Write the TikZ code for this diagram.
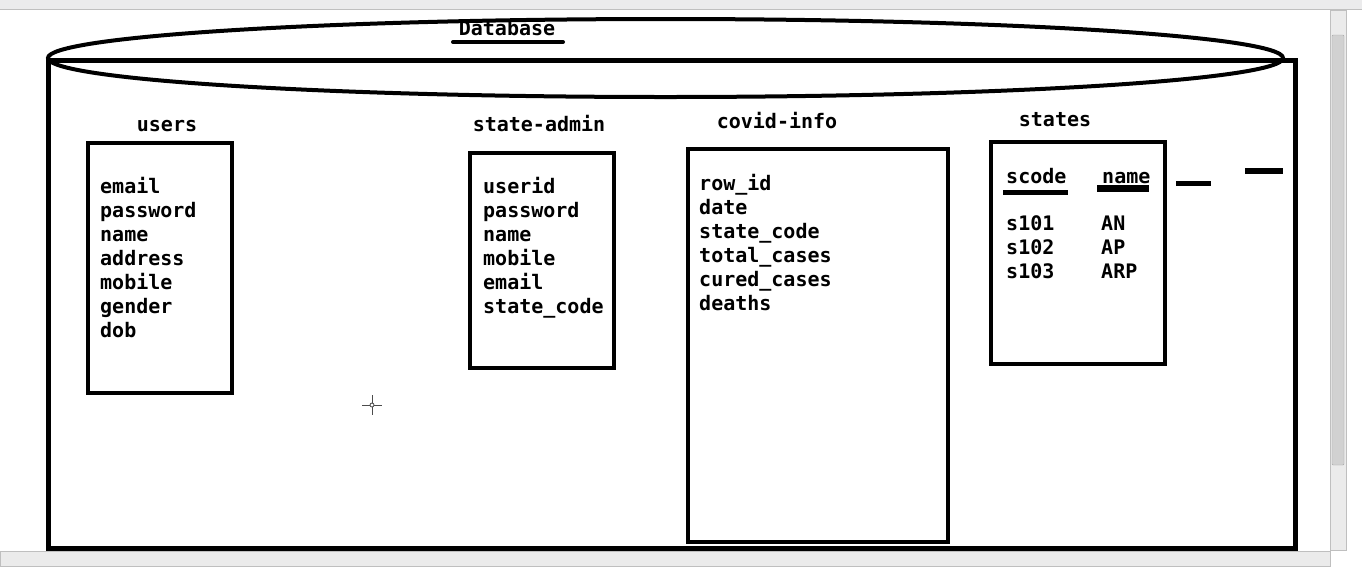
\documentclass[tikz,border=0pt]{standalone}
\usepackage{fontspec}
\setmonofont{DejaVu Sans Mono}
\begin{document}
\begin{tikzpicture}[x=1pt,y=-1pt,
  txt/.style={font=\ttfamily\bfseries\fontsize{20}{24}\selectfont,inner sep=0pt,anchor=base west},
  ttl/.style={font=\ttfamily\bfseries\fontsize{20}{24}\selectfont,inner sep=0pt,anchor=base},
  tbl/.style={draw=black,line width=4.5pt,outer sep=0pt,inner sep=0pt,anchor=north west},
  ui/.style={fill=black!8,draw=black!25,line width=0.6pt}]
\useasboundingbox[fill=white] (0,0) rectangle (1362,566);
% window chrome
\fill[blue!6!black!8] (0,0) rectangle (1362,9);
\draw[black!25,line width=0.8pt] (0,9.5) -- (1362,9.5);
\node[ui,minimum width=16pt,minimum height=540pt,inner sep=0pt] (vbar) at (1338,280) {};
\node[fill=black!18,draw=black!35,minimum width=12pt,minimum height=430pt,inner sep=0pt,rounded corners=1pt] (vthumb) at (1338,250) {};
\node[ui,minimum width=1330pt,minimum height=15pt,inner sep=0pt] (hbar) at (665,558.5) {};
% database cylinder
\draw[line width=4pt] (665.5,58) ellipse [x radius=617.5,y radius=39];
\node[tbl,line width=5pt,minimum width=1247pt,minimum height=488pt] (db) at (48,60) {};
\node[ttl] (dbl) at (507,35) {Database};
\draw[line width=4pt,line cap=round] ([xshift=-54pt,yshift=-7pt]dbl.base) -- ([xshift=56pt,yshift=-7pt]dbl.base);
% users
\node[tbl,minimum width=144pt,minimum height=250pt] (users) at (88,143) {};
\node[ttl] (usersl) at (167,131) {users};
\foreach \t [count=\i] in {email,password,name,address,mobile,gender,dob}
  \node[txt] (u\i) at (100,{193+24*(\i-1)}) {\t};
% state-admin
\node[tbl,minimum width=144pt,minimum height=215pt] (sadmin) at (470,153) {};
\node[ttl] (sadminl) at (539,131) {state-admin};
\foreach \t [count=\i] in {userid,password,name,mobile,email,state\_code}
  \node[txt] (s\i) at (483,{193+24*(\i-1)}) {\t};
% covid-info
\node[tbl,minimum width=260pt,minimum height=393pt] (covid) at (688,149) {};
\node[ttl] (covidl) at (777,128) {covid-info};
\foreach \t [count=\i] in {row\_id,date,state\_code,total\_cases,cured\_cases,deaths}
  \node[txt] (c\i) at (699,{190+24*(\i-1)}) {\t};
% states
\node[tbl,minimum width=174pt,minimum height=222pt] (states) at (991,142) {};
\node[ttl] (statesl) at (1055,126) {states};
\node[txt] (h1) at (1006,183) {scode};
\node[txt] (h2) at (1102,183) {name};
\draw[line width=5pt] (1003,192) -- (1068,192);
\draw[line width=7pt] (1097,188) -- (1149,188);
\foreach \a/\b [count=\i] in {s101/AN,s102/AP,s103/ARP}{
  \node[txt] (r\i a) at (1006,{230+24*(\i-1)}) {\a};
  \node[txt] (r\i b) at (1101,{230+24*(\i-1)}) {\b};
}
\draw[line width=5pt] (1176,183) -- (1211,183);
\draw[line width=6pt] (1245,171) -- (1283,171);
% cursor
\draw[black!70,line width=1pt] (362,405) -- (382,405) (372,395) -- (372,415);
\draw[black!70,fill=white,line width=0.8pt] (372,405) circle (2pt);
\end{tikzpicture}
\end{document}
